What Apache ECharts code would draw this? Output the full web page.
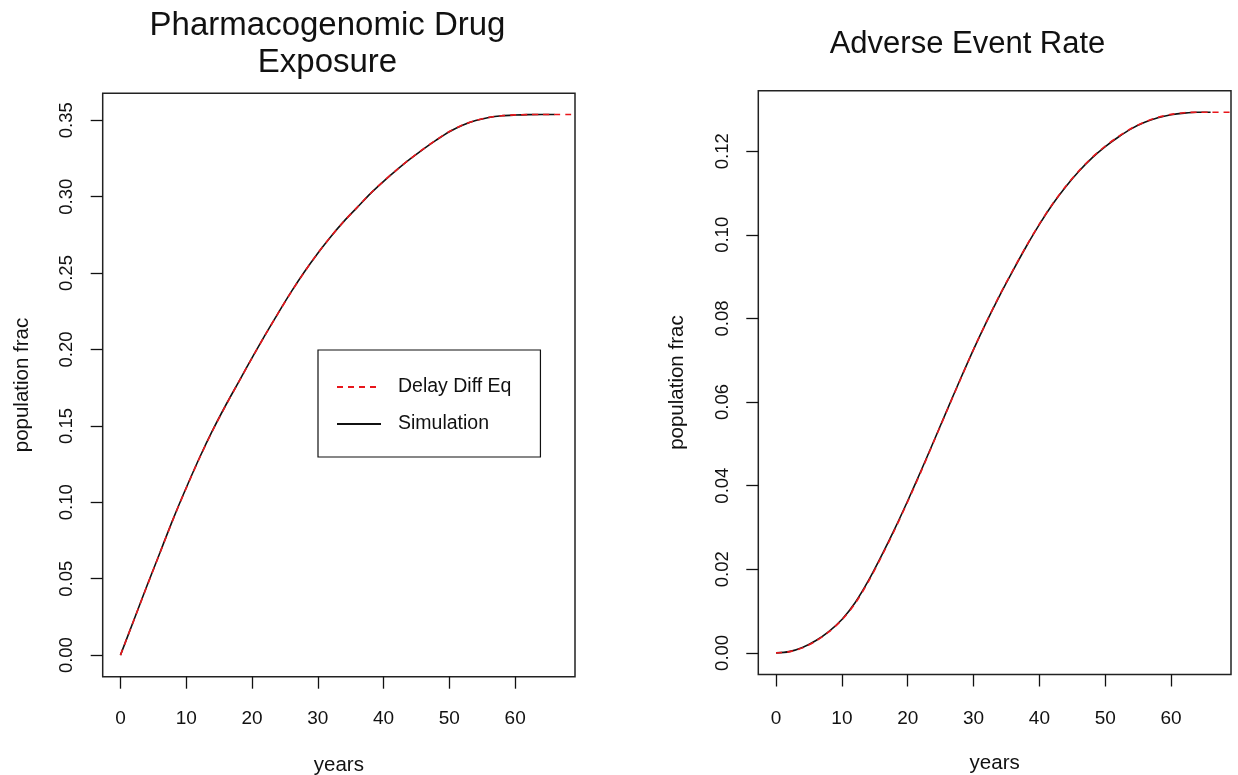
<!DOCTYPE html>
<html>
<head>
<meta charset="utf-8">
<script src="https://cdn.jsdelivr.net/npm/echarts@6/dist/echarts.min.js"></script>
<style>
html,body{margin:0;padding:0;background:#fff;}
#chart{width:1238px;height:775px;}
</style>
</head>
<body>
<div id="chart"></div>
<script>
// ---- data ----
const titles = ["Pharmacogenomic Drug\nExposure", "Adverse Event Rate"];
const seriesNames = ["Delay Diff Eq", "Simulation"];
const xTicks = [0, 10, 20, 30, 40, 50, 60];
const leftYTicks = [0, 0.05, 0.10, 0.15, 0.20, 0.25, 0.30, 0.35];
const rightYTicks = [0, 0.02, 0.04, 0.06, 0.08, 0.10, 0.12];

const simYears = [0,2,4,6,8,10,12,14,16,18,20,22,24,26,28,30,32,34,36,38,40,42,44,46,48,50,52,54,56,58,60,62,64,66];
const ddeYears = [0,2,4,6,8,10,12,14,16,18,20,22,24,26,28,30,32,34,36,38,40,42,44,46,48,50,52,54,56,58,60,62,64,66,68,70];

const exposureSim = [0,0.0225,0.0450,0.0670,0.0890,0.1095,0.1290,0.1470,0.1635,0.1790,0.1945,0.2095,0.2240,0.2380,0.2510,0.2630,0.2740,0.2840,0.2930,0.3020,0.3100,0.3175,0.3245,0.3310,0.3370,0.3425,0.3468,0.3498,0.3518,0.3529,0.3534,0.3537,0.3538,0.3538];
const exposureDde = [0,0.0224,0.0448,0.0668,0.0888,0.1093,0.1288,0.1468,0.1633,0.1789,0.1944,0.2094,0.2239,0.2379,0.2509,0.2630,0.2740,0.2840,0.2931,0.3021,0.3101,0.3176,0.3246,0.3311,0.3371,0.3426,0.3469,0.3499,0.3519,0.3530,0.3535,0.3537,0.3538,0.3538,0.3538,0.3538];

const adverseSim = [0,0.0003,0.0013,0.0029,0.0051,0.0080,0.0120,0.0172,0.0232,0.0296,0.0364,0.0435,0.0508,0.0582,0.0655,0.0726,0.0793,0.0856,0.0915,0.0972,0.1025,0.1073,0.1115,0.1152,0.1184,0.1211,0.1234,0.1254,0.1269,0.1280,0.1287,0.1291,0.1293,0.1293];
const adverseDde = [0,0.0003,0.0012,0.0028,0.0050,0.0079,0.0118,0.0170,0.0230,0.0294,0.0362,0.0433,0.0507,0.0581,0.0654,0.0726,0.0793,0.0857,0.0916,0.0973,0.1026,0.1074,0.1116,0.1153,0.1185,0.1212,0.1235,0.1255,0.1270,0.1281,0.1288,0.1292,0.1293,0.1293,0.1293,0.1293];

// ---- helpers ----
const FONT = "Liberation Sans, Arial, Helvetica, sans-serif";
const RED = "#e8161b";
const BLACK = "#111111";
function pairs(xs, ys){ return xs.map((x,i)=>[x, ys[i]]); }

function xAxis(gridIndex, labelMargin){
  return {
    type:'value', gridIndex, min:-2.7, max:69.1,
    name:'years', nameLocation:'middle', nameGap:78,
    nameTextStyle:{fontFamily:FONT, fontSize:20.5, color:BLACK},
    axisLine:{show:false, onZero:false},
    axisTick:{show:true, inside:false, length:12, customValues:xTicks, lineStyle:{color:BLACK, width:1.3}},
    axisLabel:{show:true, customValues:xTicks, margin:labelMargin, fontFamily:FONT, fontSize:19, color:BLACK},
    splitLine:{show:false}
  };
}
function yAxis(gridIndex, min, max, ticks){
  return {
    type:'value', gridIndex, min, max,
    name:'population frac', nameLocation:'middle', nameGap:70,
    nameTextStyle:{fontFamily:FONT, fontSize:20.5, color:BLACK},
    axisLine:{show:false, onZero:false},
    axisTick:{show:true, inside:false, length:12, customValues:ticks, lineStyle:{color:BLACK, width:1.3}},
    axisLabel:{show:true, customValues:ticks, rotate:90, margin:26, fontFamily:FONT, fontSize:18.5, color:BLACK,
      formatter:(v)=>Number(v).toFixed(2)},
    splitLine:{show:false}
  };
}

const option = {
  backgroundColor:'#ffffff',
  animation:false,
  title:[
    {text:titles[0], left:327.5, top:7, textAlign:'center', padding:0,
     textStyle:{fontFamily:FONT, fontSize:33, fontWeight:'normal', color:BLACK, lineHeight:37}},
    {text:titles[1], left:967.5, top:26, textAlign:'center', padding:0,
     textStyle:{fontFamily:FONT, fontSize:31, fontWeight:'normal', color:BLACK, lineHeight:37}}
  ],
  legend:{
    data:seriesNames, orient:'vertical', left:318, top:350,
    backgroundColor:'#fff', borderColor:BLACK, borderWidth:1.2, borderRadius:0,
    padding:[27,29,23,18], itemGap:17, itemWidth:44, itemHeight:14,
    itemStyle:{opacity:0},
    textStyle:{fontFamily:FONT, fontSize:19.5, color:BLACK, padding:[0,0,0,12]},
    selectedMode:false
  },
  grid:[
    {left:102.7, top:93.3, width:472.3, height:583.4, show:true, borderColor:'#222', borderWidth:1.5, backgroundColor:'transparent', outerBoundsMode:'none', containLabel:false},
    {left:758.3, top:90.7, width:472.7, height:583.8, show:true, borderColor:'#222', borderWidth:1.5, backgroundColor:'transparent', outerBoundsMode:'none', containLabel:false}
  ],
  xAxis:[xAxis(0, 33), xAxis(1, 35)],
  yAxis:[yAxis(0,-0.01414,0.36764,leftYTicks), yAxis(1,-0.00517,0.13447,rightYTicks)],
  series:[
    {name:seriesNames[1], type:'line', xAxisIndex:0, yAxisIndex:0, data:pairs(simYears, exposureSim),
     symbol:'none', smooth:0.3, lineStyle:{color:BLACK, width:1.6}, itemStyle:{color:BLACK}, z:2},
    {name:seriesNames[0], type:'line', xAxisIndex:0, yAxisIndex:0, data:pairs(ddeYears, exposureDde),
     symbol:'none', smooth:0.3, lineStyle:{color:RED, width:1.6, type:[6,5]}, itemStyle:{color:RED}, z:3},
    {name:seriesNames[1], type:'line', xAxisIndex:1, yAxisIndex:1, data:pairs(simYears, adverseSim),
     symbol:'none', smooth:0.3, lineStyle:{color:BLACK, width:1.6}, itemStyle:{color:BLACK}, z:2},
    {name:seriesNames[0], type:'line', xAxisIndex:1, yAxisIndex:1, data:pairs(ddeYears, adverseDde),
     symbol:'none', smooth:0.3, lineStyle:{color:RED, width:1.6, type:[6,5]}, itemStyle:{color:RED}, z:3}
  ]
};
const chart = echarts.init(document.getElementById('chart'), null, {renderer:'canvas'});
chart.setOption(option);
</script>
</body>
</html>
